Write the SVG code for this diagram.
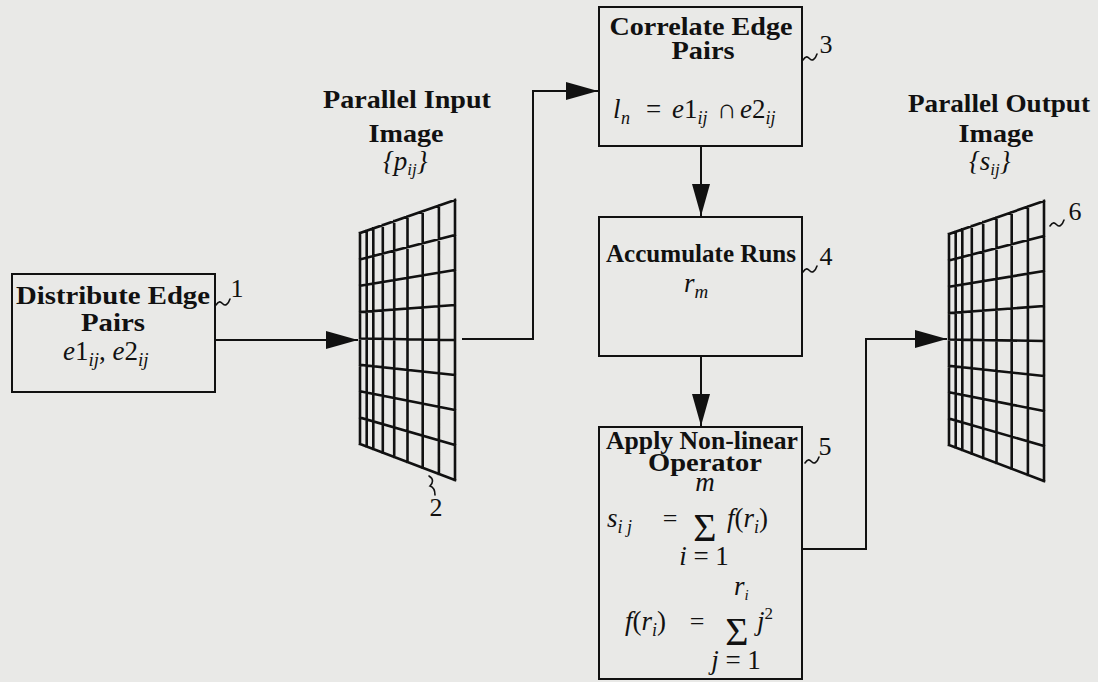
<svg xmlns="http://www.w3.org/2000/svg" xmlns:xlink="http://www.w3.org/1999/xlink" width="1098" height="682" viewBox="0 0 1098 682">
<style>
.box{fill:none;stroke:#111;stroke-width:2}
.conn{fill:none;stroke:#111;stroke-width:2}
.grid{fill:none;stroke:#111;stroke-width:2.6;stroke-linecap:square}
.tl{fill:none;stroke:#111;stroke-width:1.6;stroke-linecap:round}
.b{font-family:"Liberation Serif","Times New Roman",serif;font-weight:bold;font-size:25px;fill:#111;text-anchor:middle}
.m{font-family:"Liberation Serif","Times New Roman",serif;font-style:italic;font-size:27px;fill:#111}
.n{font-family:"Liberation Serif","Times New Roman",serif;font-size:26px;fill:#111}
.r{font-style:normal}
.sig{font-family:"Liberation Serif","Times New Roman",serif;font-size:40px;fill:#111;text-anchor:middle}
</style>
<defs>
<marker id="ah" markerUnits="userSpaceOnUse" markerWidth="32" markerHeight="18" refX="32" refY="9" orient="auto">
<path d="M0,0 L32,9 L0,18 z" fill="#111"/>
</marker>
<g id="gridShape">
<path class="grid" d="M360,233 V444 M366.7,230.7 V446.5 M373.3,228.4 V449 M382.8,225.1 V452.6 M394.2,221.1 V457 M407.5,216.5 V462 M422.7,211.2 V467.8 M438.9,205.6 V473.9 M455,200 V480 M360,233 L455,200 M360,259.4 L455,235 M360,285.8 L455,270 M360,312.1 L455,305 M360,338.5 L455,340 M360,364.9 L455,375 M360,391.3 L455,410 M360,417.6 L455,445 M360,444 L455,480"/>
</g>
</defs>
<rect width="1098" height="682" fill="#e9e9e7"/>

<g id="connectors">
<path class="conn" d="M215,340 H358" marker-end="url(#ah)"/>
<path class="conn" d="M462,339 H533 V91 H598" marker-end="url(#ah)"/>
<path class="conn" d="M701,146 V216" marker-end="url(#ah)"/>
<path class="conn" d="M701,356 V426" marker-end="url(#ah)"/>
<path class="conn" d="M802,549 H866 V339 H947" marker-end="url(#ah)"/>
</g>

<g id="node1">
<rect class="box" x="12" y="274" width="203" height="118"/>
<text class="b" x="113" y="304" textLength="194" lengthAdjust="spacingAndGlyphs">Distribute Edge</text>
<text class="b" x="113" y="331" textLength="64" lengthAdjust="spacingAndGlyphs">Pairs</text>
<text class="m" x="63" y="360">e<tspan class="r">1</tspan><tspan font-size="19" dy="6">ij</tspan><tspan class="r" dy="-6">, </tspan>e<tspan class="r">2</tspan><tspan font-size="19" dy="6">ij</tspan></text>
<path class="tl" d="M216,305 c3,-5 5,-3 7,-1 c2,2 5,1 7,-5"/>
<text class="n" x="237" y="297" text-anchor="middle">1</text>
</g>

<g id="node2">
<text class="b" x="407" y="108" textLength="168" lengthAdjust="spacingAndGlyphs">Parallel Input</text>
<text class="b" x="406" y="142" textLength="75" lengthAdjust="spacingAndGlyphs">Image</text>
<text class="m" x="383" y="170" font-size="25">{p<tspan font-size="17" dy="5">ij</tspan><tspan dy="-5">}</tspan></text>
<use xlink:href="#gridShape"/>
<path class="tl" d="M429,476 c5,3 4,7 1,10 c3,1 5,4 5,9"/>
<text class="n" x="436" y="516" text-anchor="middle">2</text>
</g>

<g id="node3">
<rect class="box" x="599" y="7" width="203" height="139"/>
<text class="b" x="701" y="35" textLength="183" lengthAdjust="spacingAndGlyphs">Correlate Edge</text>
<text class="b" x="703" y="59" textLength="63" lengthAdjust="spacingAndGlyphs">Pairs</text>
<text class="m" y="118"><tspan x="613">l</tspan><tspan x="621" font-size="18" dy="6">n</tspan><tspan class="r" x="646" dy="-6">=</tspan><tspan x="672">e</tspan><tspan class="r">1</tspan><tspan font-size="18" dy="6">ij</tspan><tspan class="r" x="717" dy="-6">∩</tspan><tspan x="740">e</tspan><tspan class="r">2</tspan><tspan font-size="18" dy="6">ij</tspan></text>
<path class="tl" d="M803,60 c3,-5 5,-3 7,-1 c2,2 5,1 7,-5"/>
<text class="n" x="826" y="53" text-anchor="middle">3</text>
</g>

<g id="node4">
<rect class="box" x="599" y="217" width="203" height="139"/>
<text class="b" x="701" y="262" textLength="190" lengthAdjust="spacingAndGlyphs">Accumulate Runs</text>
<text class="m" x="684" y="292">r<tspan font-size="19" dy="6">m</tspan></text>
<path class="tl" d="M803,272 c3,-5 5,-3 7,-1 c2,2 5,1 7,-5"/>
<text class="n" x="826" y="265" text-anchor="middle">4</text>
</g>

<g id="node5">
<rect class="box" x="599" y="427" width="203" height="252"/>
<text class="b" x="702" y="449" textLength="192" lengthAdjust="spacingAndGlyphs">Apply Non-linear</text>
<text class="b" x="705" y="471" textLength="114" lengthAdjust="spacingAndGlyphs">Operator</text>
<text class="m" x="705" y="491" text-anchor="middle" font-size="17">m</text>
<text class="m" x="607" y="527" font-size="25">s<tspan font-size="18" dy="6">i j</tspan></text>
<text class="n" x="670" y="527" text-anchor="middle">=</text>
<text class="sig" x="705" y="541">Σ</text>
<text class="m" x="727" y="527" font-size="25">f<tspan class="r">(</tspan>r<tspan font-size="18" dy="6">i</tspan><tspan class="r" dy="-6">)</tspan></text>
<text class="m" x="704" y="565" text-anchor="middle" font-size="20">i<tspan class="r"> = 1</tspan></text>
<text class="m" x="734" y="595" font-size="20">r<tspan font-size="15" dy="5">i</tspan></text>
<text class="m" x="625" y="630" font-size="25">f<tspan class="r">(</tspan>r<tspan font-size="18" dy="6">i</tspan><tspan class="r" dy="-6">)</tspan></text>
<text class="n" x="697" y="630" text-anchor="middle">=</text>
<text class="sig" x="737" y="645">Σ</text>
<text class="m" x="757" y="630" font-size="25">j<tspan class="r" font-size="17" dy="-11">2</tspan></text>
<text class="m" x="736" y="669" text-anchor="middle" font-size="20">j<tspan class="r"> = 1</tspan></text>
<path class="tl" d="M805,463 c3,-5 5,-3 7,-1 c2,2 5,1 7,-5"/>
<text class="n" x="825" y="455" text-anchor="middle">5</text>
</g>

<g id="node6">
<text class="b" x="999" y="112" textLength="182" lengthAdjust="spacingAndGlyphs">Parallel Output</text>
<text class="b" x="996" y="142" textLength="75" lengthAdjust="spacingAndGlyphs">Image</text>
<text class="m" x="969" y="170" font-size="25">{s<tspan font-size="17" dy="5">ij</tspan><tspan dy="-5">}</tspan></text>
<use xlink:href="#gridShape" transform="translate(589,1)"/>
<path class="tl" d="M1050,226 c3,-5 5,-3 7,-1 c2,2 5,1 7,-5"/>
<text class="n" x="1075" y="220" text-anchor="middle">6</text>
</g>
</svg>
